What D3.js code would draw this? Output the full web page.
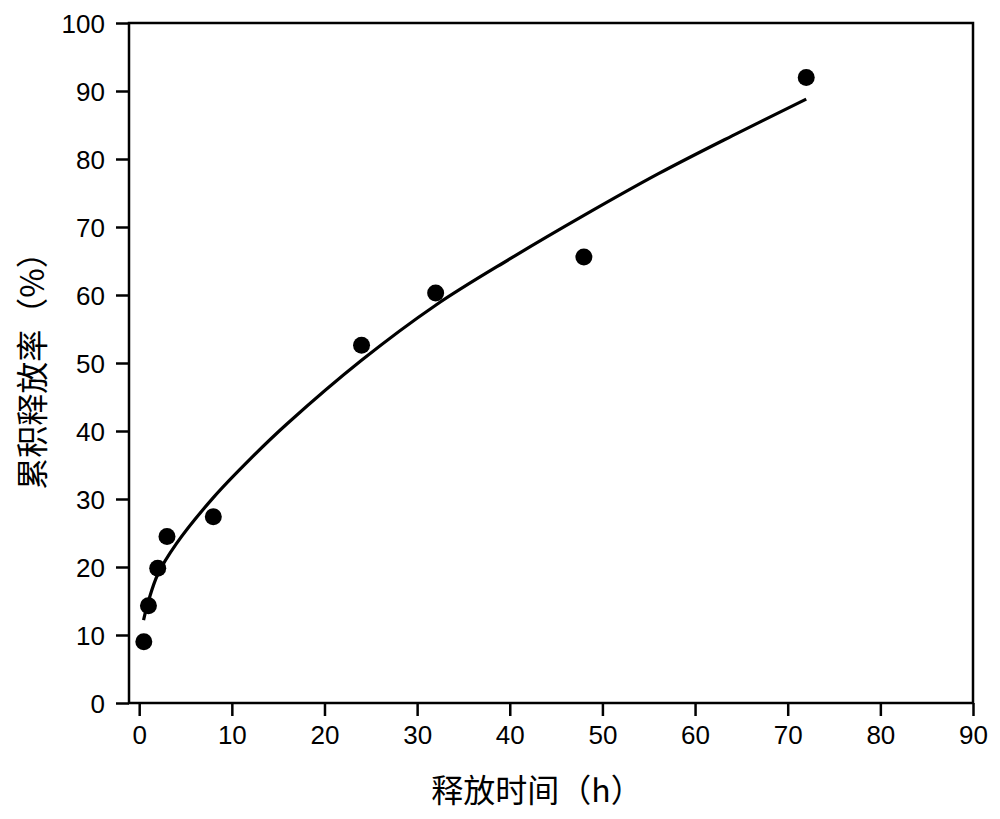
<!DOCTYPE html>
<html>
<head>
<meta charset="utf-8">
<script src="https://cdn.jsdelivr.net/npm/d3@7"></script>
<style>
  body { margin: 0; background: #fff; }
  svg { display: block; }
</style>
</head>
<body>
<svg id="chart"></svg>
<script>
// measured release points
const hours = [0.5, 1, 2, 3, 8, 24, 32, 48, 72];
const released = [9.0, 14.3, 19.8, 24.5, 27.4, 52.6, 60.3, 65.6, 92.0];

// fitted curve
const fitHours = [0.47, 1, 2, 4, 8, 12, 16, 24, 32, 40, 48, 56, 64, 72];
const fitValues = [12.2, 15.0, 18.9, 23.4, 30.2, 35.9, 41.1, 50.4, 58.5, 65.3, 71.7, 77.8, 83.4, 88.8];

const xTicks = [0, 10, 20, 30, 40, 50, 60, 70, 80, 90];
const yTicks = [0, 10, 20, 30, 40, 50, 60, 70, 80, 90, 100];

const width = 1000;
const height = 819;
const margin = { top: 23, right: 27, bottom: 116, left: 129 };

const svg = d3.select("#chart")
    .attr("width", width)
    .attr("height", height);

const x = d3.scaleLinear()
    .domain([-1.1, 90])
    .range([margin.left, width - margin.right]);

const y = d3.scaleLinear()
    .domain([0, 100])
    .range([height - margin.bottom, margin.top]);

const tickFont = "'Liberation Sans', Arial, sans-serif";
const cjkFont = "'Noto Sans CJK SC', 'Noto Sans', sans-serif";

// frame
svg.append("rect")
    .attr("x", x(-1.1))
    .attr("y", y(100))
    .attr("width", x(90) - x(-1.1))
    .attr("height", y(0) - y(100))
    .attr("fill", "none")
    .attr("stroke", "#000")
    .attr("stroke-width", 2.5);

const gx = svg.append("g")
    .attr("transform", `translate(0,${y(0)})`)
    .call(d3.axisBottom(x).tickValues(xTicks).tickSize(13).tickSizeOuter(0).tickPadding(10));

const gy = svg.append("g")
    .attr("transform", `translate(${x(-1.1)},0)`)
    .call(d3.axisLeft(y).tickValues(yTicks).tickSize(13).tickSizeOuter(0).tickPadding(11));

[gx, gy].forEach(g => {
    g.select(".domain").remove();
    g.selectAll(".tick line").attr("stroke", "#000").attr("stroke-width", 2.5);
    g.selectAll(".tick text")
        .attr("fill", "#000")
        .style("font-family", tickFont)
        .style("font-size", "26px");
});
gy.selectAll(".tick text").attr("dy", "0.36em");
gx.selectAll(".tick text").attr("dy", "0.7em");

// fit line
const line = d3.line()
    .x(d => x(d[0]))
    .y(d => y(d[1]))
    .curve(d3.curveCatmullRom.alpha(0.5));

svg.append("path")
    .datum(fitHours.map((h, i) => [h, fitValues[i]]))
    .attr("fill", "none")
    .attr("stroke", "#000")
    .attr("stroke-width", 3.2)
    .attr("d", line);

// data points
svg.append("g")
    .selectAll("circle")
    .data(hours.map((h, i) => [h, released[i]]))
    .join("circle")
    .attr("cx", d => x(d[0]))
    .attr("cy", d => y(d[1]))
    .attr("r", 8.5)
    .attr("fill", "#000");

// axis titles
svg.append("text")
    .attr("x", (x(-1.1) + x(90)) / 2 - 14)
    .attr("y", 802)
    .attr("text-anchor", "middle")
    .style("font-family", cjkFont)
    .style("font-size", "32px")
    .attr("fill", "#000")
    .text("释放时间（h）");

svg.append("text")
    .attr("transform", `translate(44,${(y(0) + y(100)) / 2}) rotate(-90)`)
    .attr("text-anchor", "middle")
    .style("font-family", cjkFont)
    .style("font-size", "32px")
    .attr("fill", "#000")
    .text("累积释放率（%）");
</script>
</body>
</html>
